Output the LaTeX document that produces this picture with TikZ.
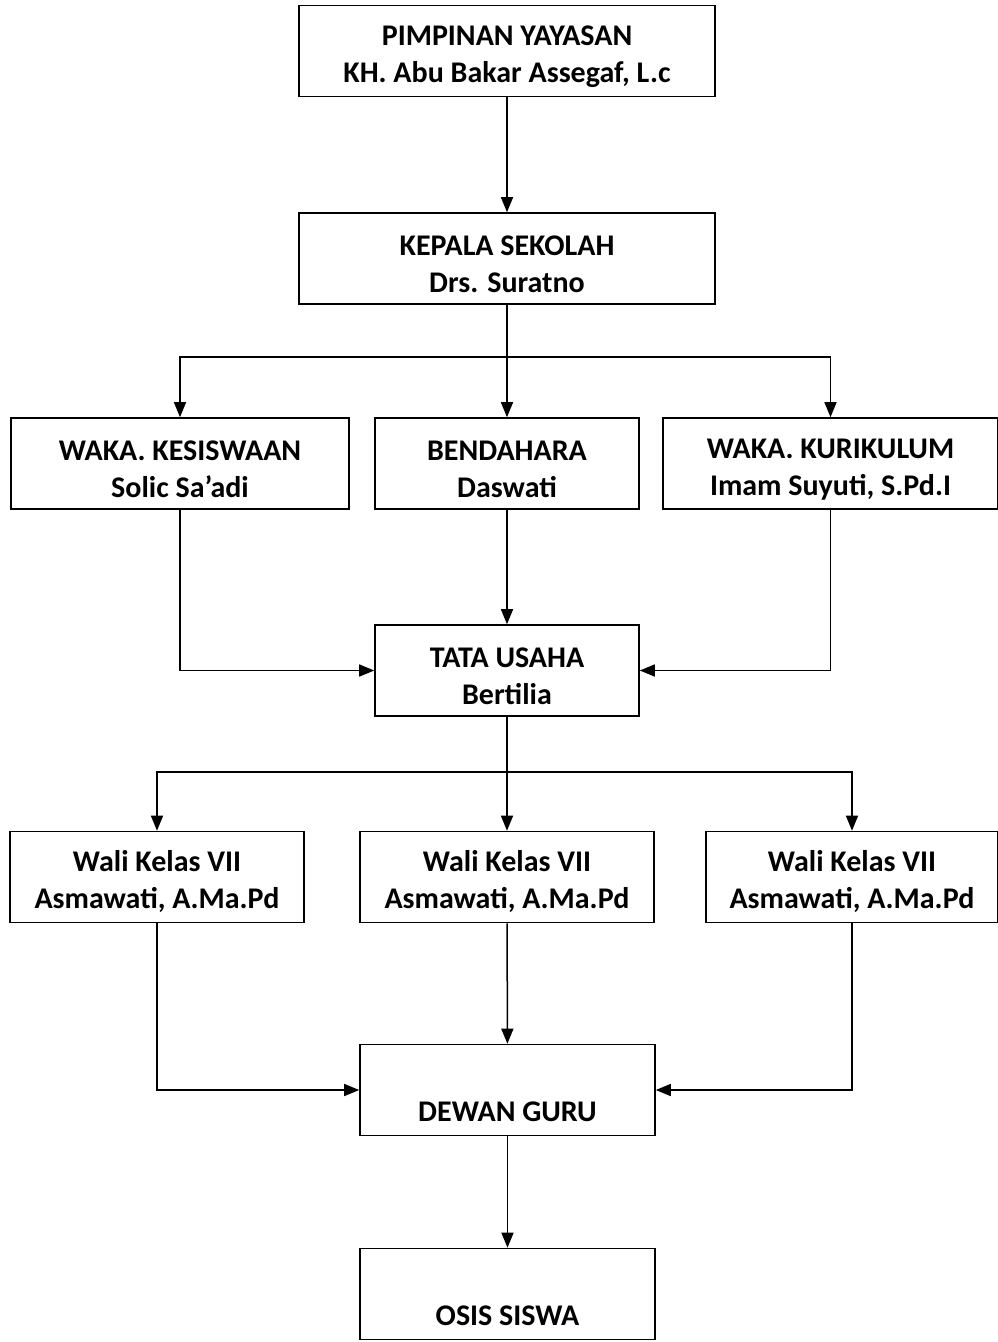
\documentclass[tikz,border=0pt]{standalone}
\usepackage{fontspec}
\setmainfont{Carlito}
\usetikzlibrary{arrows.meta,positioning}

\newcommand\jab[2]{\rule{0pt}{31pt}#1\\#2}

\begin{document}
\begin{tikzpicture}[x=1pt,y=-1pt,line width=1.5pt,
		>={Triangle[length=15pt,width=12pt]},
		box/.style={draw,line width=1.6pt,inner sep=0pt,minimum height=91pt,align=center,
			font=\fontsize{30}{37}\selectfont\bfseries}]
		\useasboundingbox (0,0) rectangle (998,1342);
		% pimpinan
		\node[box,minimum width=416pt] (yayasan) at (507,51) {\jab{PIMPINAN YAYASAN}{KH. Abu Bakar Assegaf, L.c}};
		\node[box,minimum width=416pt] (kepsek) at (507,258.5) {\jab{KEPALA SEKOLAH}{Drs. Suratno}};
		% waka
		\node[box,minimum width=338pt] (kesiswaan) at (180,463.5) {\jab{WAKA. KESISWAAN}{Solic Sa’adi}};
		\node[box,minimum width=264pt] (bendahara) at (507,463.5) {\jab{BENDAHARA}{Daswati}};
		\node[box,minimum width=335pt] (kurikulum) at (830.5,463.5) {\jab{WAKA. KURIKULUM}{Imam Suyuti, S.Pd.I}};
		\node[box,minimum width=264pt] (tu) at (507,670.5) {\jab{TATA USAHA}{Bertilia}};
		% wali kelas
		\node[box,minimum width=294pt] (wali1) at (157,877) {\jab{Wali Kelas VII}{Asmawati, A.Ma.Pd}};
		\node[box,minimum width=294pt] (wali2) at (507,877) {\jab{Wali Kelas VII}{Asmawati, A.Ma.Pd}};
		\node[box,minimum width=292pt] (wali3) at (852,877) {\jab{Wali Kelas VII}{Asmawati, A.Ma.Pd}};
		\node[box,minimum width=295pt] (guru) at (507.5,1090) {\strut\\DEWAN GURU};
		\node[box,minimum width=295pt] (osis) at (507.5,1294) {\strut\\OSIS SISWA};
		\coordinate (bagi1) at (507,357);
		\coordinate (bagi2) at (507,772);
		\draw[->] (yayasan) -- (kepsek);
		\draw[->] (kepsek) -- (bendahara);
		\draw[->] (bagi1) -| (kesiswaan);
		\draw[->] (bagi1) -| (kurikulum);
		\draw[->] (bendahara) -- (tu);
		\draw[->] (kesiswaan) |- (tu);
		\draw[->] (kurikulum) |- (tu);
		\draw[->] (tu) -- (wali2);
		\draw[->] (bagi2) -| (wali1);
		\draw[->] (bagi2) -| (wali3);
		\draw[->] (wali2) -- (guru);
		\draw[->] (wali1) |- (guru);
		\draw[->] (wali3) |- (guru);
		\draw[->] (guru) -- (osis);
	\end{tikzpicture}
\end{document}
